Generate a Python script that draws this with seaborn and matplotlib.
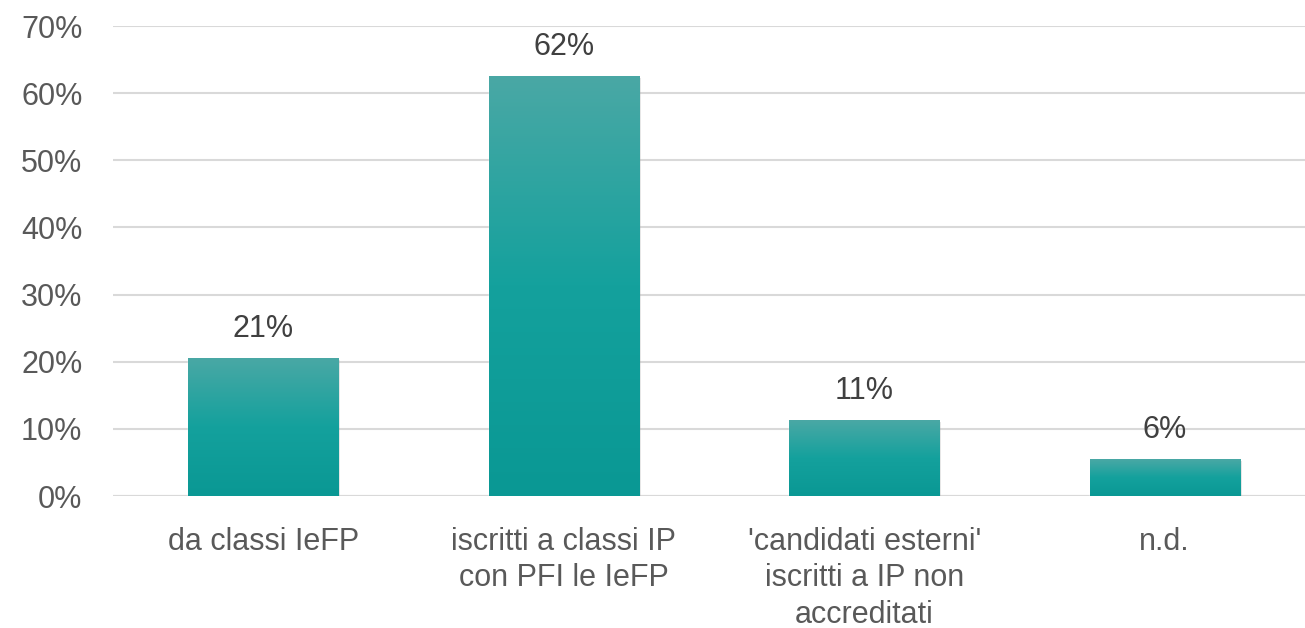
import numpy as np
import pandas as pd
import matplotlib
matplotlib.use("Agg")
import matplotlib.pyplot as plt
import seaborn as sns
from matplotlib.colors import LinearSegmentedColormap
from matplotlib.patches import Rectangle

categories = ["da classi IeFP", "iscritti a classi IP\ncon PFI le IeFP",
              "'candidati esterni'\niscritti a IP non\naccreditati", "n.d."]
values = [20.6, 62.6, 11.3, 5.5]
labels = ["21%", "62%", "11%", "6%"]
yticks = [0, 10, 20, 30, 40, 50, 60, 70]

sns.set_theme(style="white")
plt.rcParams['font.family'] = ['Liberation Sans', 'DejaVu Sans']

fig = plt.figure(figsize=(13.05, 6.28), dpi=100)
ax = fig.add_axes([113/1305, 1 - 496/628, 1202/1305, 470/628])

df = pd.DataFrame({"cat": categories, "val": values})
sns.barplot(data=df, x="cat", y="val", color="#14a09c", width=0.5, ax=ax,
            saturation=1, zorder=3)

cmap = LinearSegmentedColormap.from_list("g", ["#0a9894", "#14a19d", "#4aa8a5"])
grad = np.linspace(0, 1, 256).reshape(-1, 1)
for patch in list(ax.patches):
    x0, y0 = patch.get_x(), patch.get_y()
    w, h = patch.get_width(), patch.get_height()
    sh = Rectangle((x0 + 0.006, y0 - 0.35), w, h, facecolor="#000000", alpha=0.12,
                   edgecolor="none", zorder=2)
    ax.add_patch(sh)
    im = ax.imshow(grad, extent=[x0, x0 + w, y0, y0 + h], origin="lower",
                   cmap=cmap, aspect="auto", zorder=4)
    im.set_clip_path(patch)
    patch.set_facecolor("none")

for i, (v, lab) in enumerate(zip(values, labels)):
    ax.annotate(lab, (i, v), xytext=(0, 10), textcoords="offset points",
                ha="center", va="bottom", fontsize=22, color="#404040")

ax.set_xlim(-0.5, 3.5)
ax.set_ylim(0, 70)
ax.set_yticks(yticks)
ax.set_yticklabels([f"{t}%" for t in yticks])
ax.yaxis.grid(True, color="#d9d9d9", linewidth=1.5, zorder=0)
ax.set_axisbelow(True)
for s in ax.spines.values():
    s.set_visible(False)
ax.set_xlabel("")
ax.set_ylabel("")
ax.tick_params(axis="y", labelsize=22, labelcolor="#595959", length=0, pad=22)
ax.tick_params(axis="x", labelsize=22, labelcolor="#595959", length=0, pad=22)
for t in ax.get_xticklabels():
    t.set_linespacing(1.3)
ax.axhline(0, color="#d9d9d9", linewidth=1.5, zorder=1)

fig.savefig("out.png", dpi=100)
